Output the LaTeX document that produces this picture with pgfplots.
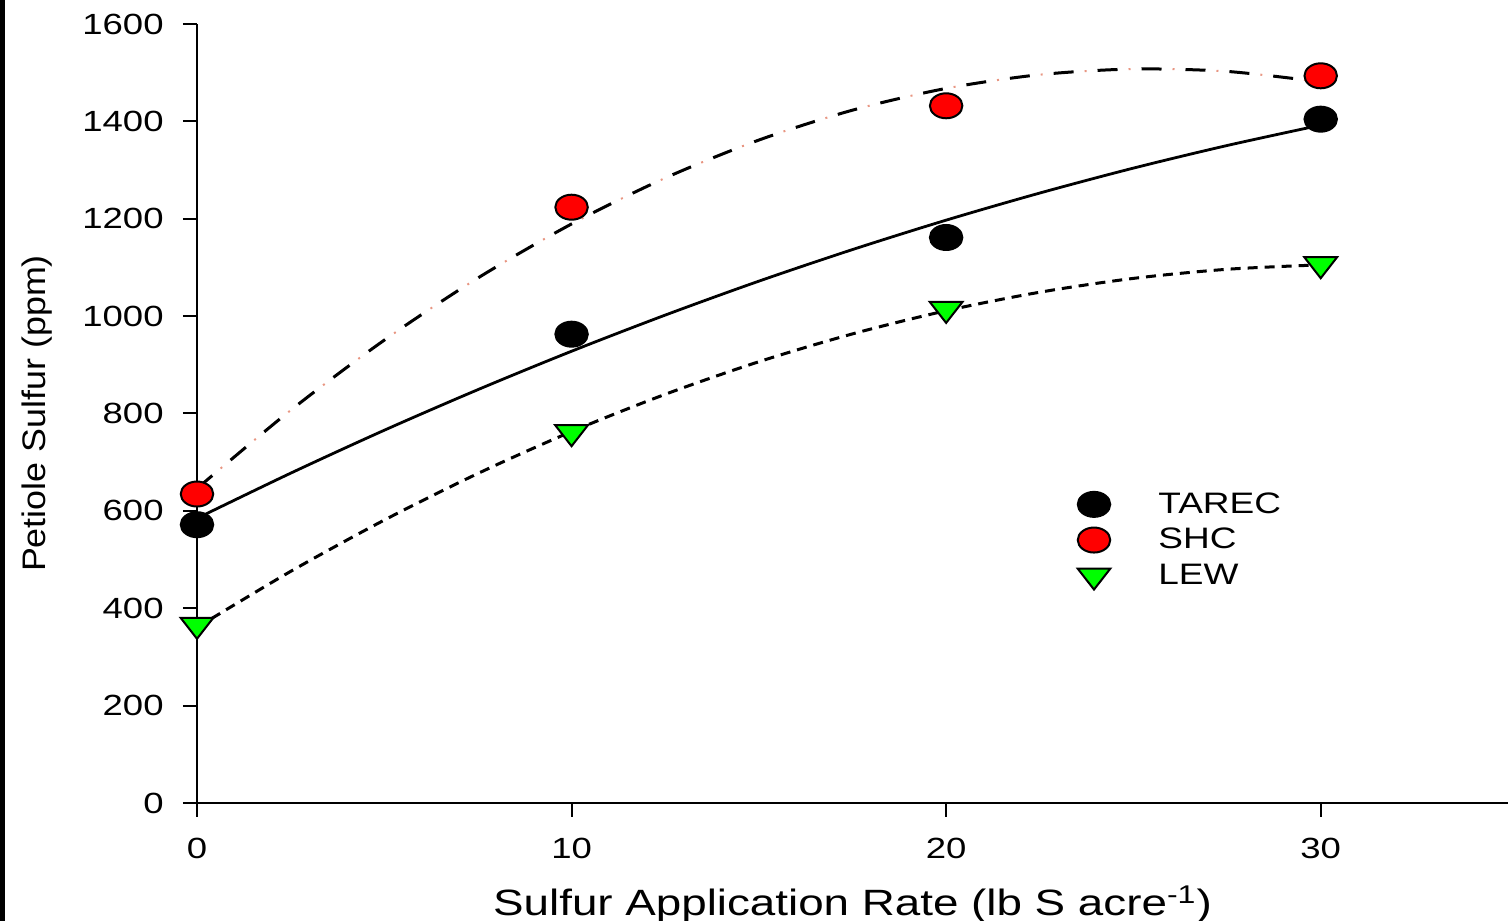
\documentclass[border=0pt]{standalone}
\usepackage{fontspec}
\setmainfont{Liberation Sans}[FakeStretch=1.25]
\newfontfamily\ylabfont{Liberation Sans}[FakeStretch=1.1]
\usepackage{pgfplots}
\pgfplotsset{compat=1.18}
\definecolor{mkred}{RGB}{255,0,0}
\definecolor{mkgreen}{RGB}{0,255,0}
\definecolor{dotpink}{RGB}{232,150,130}

\pgfplotstableread{
x y
0 571.6
10 962.9
20 1161.5
30 1404.5
}\tarec
\pgfplotstableread{
x y
0 634.6
10 1223.7
20 1432.0
30 1493.6
}\shc
\pgfplotstableread{
x y
0 366.0
10 761.6
20 1014.8
30 1106.6
}\lew
% fitted curves
\pgfplotstableread{
x y
0 584.7
2.5 677.4
5 765.6
7.5 849.0
10 927.9
12.5 1002.1
15 1071.8
17.5 1136.7
20 1197.1
22.5 1252.8
25 1304.0
27.5 1350.4
30 1392.3
}\tarecfit
\pgfplotstableread{
x y
0 645.9
2.5 806.6
5 950.7
7.5 1078.3
10 1189.3
12.5 1283.7
15 1361.6
17.5 1423.0
20 1467.7
22.5 1495.9
25 1507.5
27.5 1502.6
30 1481.1
}\shcfit
\pgfplotstableread{
x y
0 360.7
2.5 475.7
5 581.1
7.5 676.8
10 762.9
12.5 839.4
15 906.3
17.5 963.5
20 1011.1
22.5 1049.1
25 1077.5
27.5 1096.2
30 1105.3
}\lewfit

\begin{document}
\begin{tikzpicture}
\useasboundingbox (-98.5pt,-59pt) rectangle (657pt,401.5pt);
\fill[black] (-98.5pt,-59pt) rectangle (-96pt,401.5pt);
\begin{axis}[
  at={(0pt,0pt)}, anchor=south west,
  scale only axis, width=655.5pt, height=389.5pt,
  xmin=0, xmax=35, ymin=0, ymax=1600,
  axis lines*=left,
  axis line style={line width=1pt, black},
  xtick={0,10,20,30}, ytick={0,200,...,1600},
  tick align=outside, major tick length=7pt,
  tick style={line width=1pt, black},
  minor tick num=0,
  clip=false,
  /pgf/number format/assume math mode=true,
  /pgf/number format/1000 sep={},
  tick label style={font=\fontsize{14.6}{17}\selectfont},
  yticklabel style={anchor=east, inner sep=0pt, xshift=-9.5pt},
  xticklabel style={anchor=north, inner sep=0pt, yshift=-10.5pt},
  xlabel={Sulfur Application Rate (lb S acre\textsuperscript{-1})},
  ylabel={\ylabfont Petiole Sulfur (ppm)},
  xlabel style={at={([yshift=-41pt]axis description cs:0.5,0)}, anchor=north, inner sep=0pt, font=\fontsize{18.3}{22}\selectfont},
  ylabel style={at={([xshift=-88pt]axis description cs:0,0.5)}, anchor=north, inner sep=0pt, font=\fontsize{16.3}{19}\selectfont},
  legend style={draw=none, fill=none, at={(axis cs:23.5,646.7)}, anchor=north west,
    font=\fontsize{14.8}{17}\selectfont, row sep=2pt, inner sep=0pt},
  legend cell align=left,
  legend image code/.code={\draw[mark repeat=2,mark phase=2] plot coordinates {(0pt,0pt)(14pt,0pt)(50pt,0pt)}; \path (44pt,0pt);},
]
\addplot[only marks, mark=*, mark size=6.25pt, mark options={xscale=1.3, fill=black, draw=black, line width=1pt}] table {\tarec};
\addlegendentry{TAREC}
\addplot[only marks, mark=*, mark size=6.25pt, mark options={xscale=1.3, fill=mkred, draw=black, line width=1pt}] table {\shc};
\addlegendentry{SHC}
\addplot[only marks, mark=triangle*, mark size=7pt, mark options={rotate=180, xscale=1.35, fill=mkgreen, draw=black, line width=1pt}] table {\lew};
\addlegendentry{LEW}
\addplot[forget plot, smooth, black, line width=1.4pt] table {\tarecfit};
\addplot[forget plot, smooth, black, line width=1.5pt, dash pattern=on 10pt off 12pt] table {\shcfit};
\addplot[forget plot, smooth, dotpink, line width=1pt, dash pattern=on 1pt off 21pt, dash phase=6.5pt] table {\shcfit};
\addplot[forget plot, smooth, black, line width=1.5pt, dash pattern=on 5pt off 3.5pt] table {\lewfit};
\end{axis}
\end{tikzpicture}
\end{document}
